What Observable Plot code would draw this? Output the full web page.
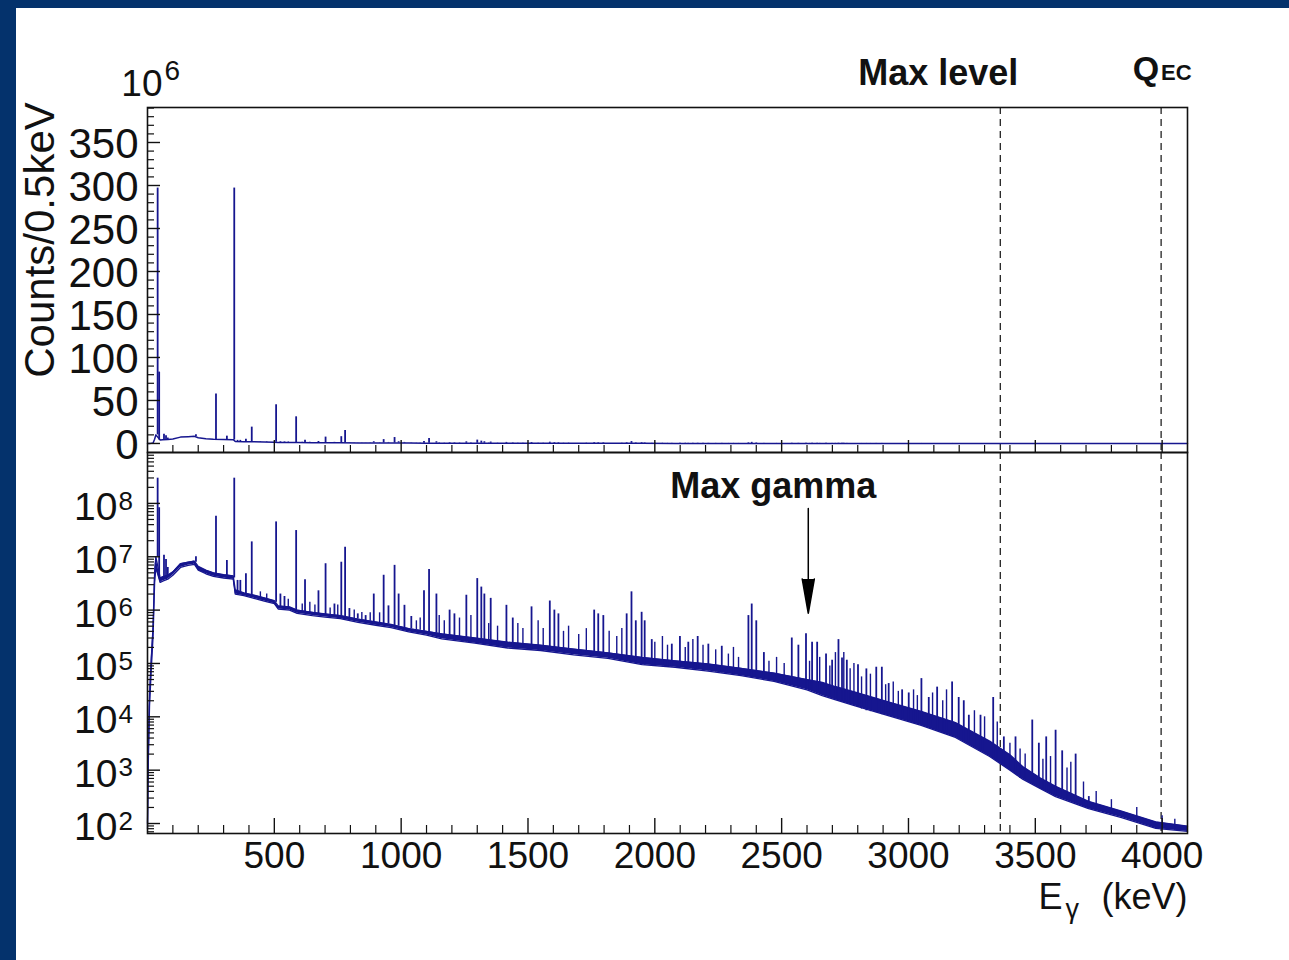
<!DOCTYPE html>
<html><head><meta charset="utf-8">
<script src="https://cdn.jsdelivr.net/npm/d3@7"></script>
<script src="https://cdn.jsdelivr.net/npm/@observablehq/plot@0.6"></script>
<style>
html,body{margin:0;padding:0;background:#fff;}
#wrap{position:relative;width:1289px;height:960px;overflow:hidden;background:#fff;}
#wrap svg{position:absolute;left:0;}
.navL{position:absolute;left:0;top:0;width:16px;height:960px;background:#04326c;}
.navT{position:absolute;left:0;top:0;width:1289px;height:8px;background:#04326c;}
</style></head>
<body><div id="wrap"><div id="top"></div><div id="bot"></div><div class="navL"></div><div class="navT"></div></div>
<script>
// ---- Continuum (energy keV, lower / upper edge of the noisy spectrum line, counts per 0.5 keV)
const contE  = [0,3,8,15,22,28,33,50,60,80,100,130,160,185,200,230,260,300,338,346,380,420,460,500,515,560,590,650,700,760,830,900,960,1030,1100,1160,1290,1420,1550,1680,1815,1950,2080,2210,2340,2470,2600,2660,2710,2790,2920,3050,3185,3320,3400,3450,3520,3580,3710,3840,3975,4100];
const contLo = [79,1.26e3,1.6e4,7.9e4,3.2e5,3.2e6,6.3e6,3.3e6,3.5e6,3.8e6,4.5e6,6.3e6,6.9e6,7.2e6,5.6e6,4.8e6,4.3e6,4.0e6,3.8e6,2.0e6,1.86e6,1.66e6,1.48e6,1.32e6,1.05e6,1.0e6,8.7e5,7.9e5,7.4e5,6.9e5,5.9e5,5.2e5,4.7e5,3.9e5,3.4e5,2.9e5,2.4e5,1.95e5,1.75e5,1.45e5,1.25e5,9.5e4,8.5e4,7.2e4,5.9e4,4.6e4,3.2e4,2.5e4,2.1e4,1.6e4,1.05e4,6.9e3,4.1e3,1.8e3,1.0e3,680,450,320,190,129,81,71];
const contHi = [100,2.0e3,2.5e4,1.26e5,5.0e5,5.0e6,1.0e7,4.0e6,4.2e6,4.5e6,5.2e6,7.4e6,7.9e6,8.3e6,6.6e6,5.6e6,5.0e6,4.6e6,4.4e6,2.4e6,2.1e6,1.9e6,1.7e6,1.5e6,1.2e6,1.15e6,1.0e6,9.1e5,8.5e5,7.9e5,6.8e5,6.0e5,5.4e5,4.5e5,4.0e5,3.6e5,3.0e5,2.5e5,2.2e5,1.86e5,1.58e5,1.3e5,1.12e5,9.8e4,8.1e4,6.6e4,5.0e4,4.4e4,3.7e4,2.9e4,1.9e4,1.26e4,7.8e3,3.5e3,1.95e3,1.17e3,710,500,260,170,107,89];

// ---- Strong gamma lines (energy keV, foot and top of each line, counts per 0.5 keV)
const peakE    = [40,46,65,73,80,191,270,313,342,355,366,388,411,507,524,540,586,621,674,702,737,764,779,796,829,860,892,931,950,974,990,1013,1040,1090,1110,1139,1191,1210,1257,1300,1316,1328,1353,1415,1440,1514,1586,1604,1620,1761,1777,1797,1889,1908,1925,1948,1960,1988,2067,2099,2132,2169,2211,2264,2369,2382,2400,2430,2540,2566,2596,2620,2640,2675,2699,2724,2738,2757,2801,2834,2873,2895,2922,2975,3001,3051,3080,3113,3172,3198,3218,3238,3284,3334,3376,3422,3488,3514,3543,3580,3606,3659,3711];
const peakBase = [1.0e7,4.0e6,3.8e6,4.0e6,4.2e6,7.9e6,4.5e6,4.2e6,4.0e6,2.1e6,2.1e6,2.0e6,1.86e6,1.4e6,1.17e6,1.1e6,1.0e6,9.1e5,8.5e5,8.3e5,7.9e5,7.6e5,7.4e5,7.2e5,6.8e5,6.3e5,6.0e5,5.6e5,5.5e5,5.1e5,5.0e5,4.7e5,4.5e5,4.0e5,3.8e5,3.7e5,2.8e5,2.7e5,2.5e5,2.4e5,2.35e5,2.3e5,2.2e5,2.0e5,1.95e5,1.8e5,1.7e5,1.68e5,1.6e5,1.35e5,1.33e5,1.3e5,1.1e5,1.05e5,1.02e5,9.5e4,9.3e4,9.2e4,8.6e4,8.3e4,7.9e4,7.6e4,7.2e4,6.6e4,5.7e4,5.6e4,5.4e4,5.0e4,4.0e4,3.8e4,3.3e4,3.0e4,2.8e4,2.4e4,2.2e4,2.0e4,1.9e4,1.8e4,1.5e4,1.3e4,1.2e4,1.1e4,1.05e4,9.0e3,8.0e3,6.9e3,6.3e3,5.6e3,4.3e3,3.9e3,3.5e3,3.2e3,2.3e3,1.7e3,1.2e3,850,560,470,400,320,290,240,190];
const peakTop  = [2.97e8,8.3e7,1.07e7,8.9e6,6.3e6,1.0e7,5.75e7,8.5e6,2.97e8,3.6e6,3.6e6,4.8e6,1.9e7,4.5e7,2.0e6,1.8e6,3.1e7,3.7e6,2.3e6,7.4e6,1.3e6,7.9e6,1.5e7,1.07e6,8.5e5,7.9e5,2.0e6,4.5e6,1.2e6,6.9e6,2.0e6,1.23e6,7.6e5,2.3e6,5.8e6,2.0e6,1.0e6,8.5e5,1.9e6,3.9e6,2.7e6,2.0e6,1.66e6,1.23e6,7.1e5,1.15e6,1.48e6,1.0e6,8.5e5,1.0e6,8.5e5,7.9e5,8.5e5,2.2e6,6.3e5,9.1e5,6.3e5,2.8e5,2.3e5,3.2e5,2.5e5,3.2e5,2.3e5,2.1e5,7.9e5,1.3e6,6.3e5,1.6e5,3.0e5,2.2e5,3.6e5,2.5e5,2.5e5,1.5e5,1.15e5,2.8e5,1.26e5,1.15e5,9.5e4,7.9e4,8.5e4,8.5e4,4.2e4,3.2e4,2.8e4,5.2e4,2.3e4,3.6e4,4.5e4,2.3e4,2.0e4,1.07e4,1.07e4,2.3e4,4.2e3,4.2e3,8.7e3,3.2e3,4.2e3,5.6e3,2.3e3,2.0e3,320];

// ---- Weak lines / noise spikes on the continuum (energy keV, foot, top)
const weakE    = [445,470,555,610,640,660,720,750,815,845,878,915,1060,1075,1150,1170,1230,1275,1345,1380,1460,1480,1540,1560,1640,1660,1700,1730,1820,1850,1870,2000,2030,2050,2120,2150,2190,2240,2290,2310,2330,2450,2480,2510,2610,2650,2690,2712,2745,2770,2785,2815,2850,2910,2940,2960,3020,3035,3095,3135,3150,3260,3300,3350,3400,3440,3460,3530,3560,3625,3640,3690,3740,3800,3900,4000,4050];
const weakBase = [1.55e6,1.45e6,1.0e6,9.3e5,8.9e5,8.6e5,8.0e5,7.7e5,7.0e5,6.6e5,6.2e5,5.8e5,4.3e5,4.2e5,3.5e5,3.2e5,2.7e5,2.5e5,2.3e5,2.1e5,1.9e5,1.9e5,1.75e5,1.7e5,1.6e5,1.55e5,1.45e5,1.4e5,1.25e5,1.2e5,1.15e5,9.2e4,9.0e4,8.8e4,8.0e4,7.8e4,7.4e4,6.9e4,6.4e4,6.2e4,6.0e4,4.8e4,4.5e4,4.2e4,3.1e4,2.6e4,2.3e4,2.1e4,1.85e4,1.7e4,1.6e4,1.4e4,1.25e4,1.1e4,1.0e4,9.5e3,7.5e3,7.2e3,6.0e3,5.0e3,4.7e3,2.8e3,2.1e3,1.5e3,1.0e3,700,650,430,370,280,270,210,175,150,110,78,74];
const weakTop  = [2.2e6,2.0e6,1.6e6,1.3e6,1.4e6,1.25e6,1.1e6,1.25e6,1.0e6,9.0e5,8.9e5,8.9e5,6.3e5,7.1e5,7.9e5,6.3e5,7.1e5,7.9e5,5.6e5,5.0e5,5.6e5,4.5e5,6.3e5,4.5e5,4.0e5,5.0e5,3.5e5,4.5e5,4.0e5,3.2e5,4.5e5,2.5e5,3.2e5,2.2e5,2.0e5,2.8e5,2.2e5,1.8e5,1.5e5,2.0e5,1.3e5,1.1e5,1.3e5,1.0e5,1.1e5,1.3e5,9.0e4,1.6e5,1.6e5,8.0e4,1.0e5,5.6e4,6.3e4,4.0e4,4.5e4,3.0e4,3.2e4,2.5e4,2.8e4,2.0e4,3.2e4,1.3e4,1.0e4,8.0e3,3.2e3,2.5e3,2.0e3,1.6e3,1.8e3,1.1e3,1.4e3,600,400,280,200,140,120];

// ---- Reference lines and annotations (keV)
const markerNames = ["Max level", "QEC"];
const markerE = [3362, 3996];
const maxGammaE = 2605;

// ---- Axis tick values / labels
const xMajor = [500,1000,1500,2000,2500,3000,3500,4000];
const yTopMajor = [0,50,100,150,200,250,300,350];
const logMajor = [1e2,1e3,1e4,1e5,1e6,1e7,1e8];

// tables built from the arrays above
const cont = contE.map((E, i) => ({E, lo: contLo[i], hi: contHi[i]}));
const peaks = peakE.map((E, i) => ({E, base: peakBase[i], top: peakTop[i]}));
const weak = weakE.map((E, i) => ({E, base: weakBase[i], top: weakTop[i]}));
const markers = markerE.map((E, i) => ({E, name: markerNames[i]}));
const xMinor = d3.range(100, 4100, 100).filter(v => v % 500 !== 0);
const yTopMinor = d3.range(10, 391, 10).filter(v => v % 50 !== 0);
const logMinor = [];
for (let d = 1; d <= 8; d++) for (let k = 2; k <= 9; k++) { const v = k * 10 ** d; if (v > 65 && v < 9e8) logMinor.push(v); }

const blue = "#16168f";
const ink = "#111";
const font = "'Liberation Sans', Arial, Helvetica, sans-serif";
const W = 1289, ML = 147, MR = 102;
const xDomain = [0, 4100];

const topPlot = Plot.plot({
  width: W, height: 452, marginLeft: ML, marginRight: MR, marginTop: 107, marginBottom: 0,
  x: {domain: xDomain, axis: null},
  y: {domain: [-10.5, 390.7], axis: null},
  style: {fontFamily: font, background: "transparent", overflow: "visible", color: ink},
  marks: [
    Plot.ruleX(markers, {x: "E", stroke: "#222", strokeWidth: 1.3, strokeDasharray: "7,5"}),
    Plot.line(cont, {x: "E", y: d => d.hi / 1e6, stroke: blue, strokeWidth: 1.5}),
    Plot.ruleX(weak, {x: "E", y1: d => d.base / 1e6, y2: d => d.top / 1e6, stroke: blue, strokeWidth: 1.4}),
    Plot.ruleX(peaks, {x: "E", y1: d => d.base / 1e6, y2: d => d.top / 1e6, stroke: blue, strokeWidth: 1.8}),
    Plot.frame({stroke: ink, strokeWidth: 1.6}),
    Plot.axisY(yTopMajor, {anchor: "left", tickSize: 13, dx: 13, tickFormat: () => "", label: null, strokeWidth: 1.4}),
    Plot.axisY(yTopMinor, {anchor: "left", tickSize: 7, dx: 7, tickFormat: () => "", label: null, strokeWidth: 1.2}),
    Plot.axisX(xMajor, {anchor: "bottom", tickSize: 12, dy: -12, tickFormat: () => "", label: null, strokeWidth: 1.4}),
    Plot.axisX(xMinor, {anchor: "bottom", tickSize: 7, dy: -7, tickFormat: () => "", label: null, strokeWidth: 1.2}),
    Plot.text(yTopMajor, {y: d => d, text: d => String(d), frameAnchor: "left", textAnchor: "end", lineAnchor: "middle", dx: -9, dy: 2, fontSize: 42}),
    Plot.text(["10"], {frameAnchor: "top-left", textAnchor: "end", lineAnchor: "bottom", dx: 15, dy: -12, fontSize: 37}),
    Plot.text(["6"], {frameAnchor: "top-left", textAnchor: "start", lineAnchor: "bottom", dx: 17, dy: -28, fontSize: 28}),
    Plot.text(["Counts/0.5keV"], {frameAnchor: "left", rotate: -90, textAnchor: "middle", lineAnchor: "middle", dx: -107, dy: -40, fontSize: 42}),
    Plot.text(markers.slice(0, 1), {x: "E", text: "name", frameAnchor: "top", textAnchor: "end", lineAnchor: "bottom", dx: 18, dy: -23, fontSize: 36, fontWeight: "bold"}),
    Plot.text(markers.slice(1), {x: "E", text: () => "Q", frameAnchor: "top", textAnchor: "end", lineAnchor: "bottom", dx: -2, dy: -28, fontSize: 34, fontWeight: "bold"}),
    Plot.text(markers.slice(1), {x: "E", text: () => "EC", frameAnchor: "top", textAnchor: "start", lineAnchor: "bottom", dx: 0, dy: -28, fontSize: 22, fontWeight: "bold"})
  ]
});

const botPlot = Plot.plot({
  width: W, height: 508, marginLeft: ML, marginRight: MR, marginTop: 0, marginBottom: 127,
  x: {domain: xDomain, axis: null},
  y: {type: "log", domain: [65, 9.0e8], axis: null},
  style: {fontFamily: font, background: "transparent", overflow: "visible", color: ink},
  marks: [
    Plot.ruleX(markers, {x: "E", stroke: "#222", strokeWidth: 1.3, strokeDasharray: "7,5"}),
    Plot.areaY(cont, {x: "E", y1: "lo", y2: "hi", fill: blue}),
    Plot.line(cont, {x: "E", y: "lo", stroke: blue, strokeWidth: 1.3}),
    Plot.line(cont, {x: "E", y: "hi", stroke: blue, strokeWidth: 1.3}),
    Plot.ruleX(weak, {x: "E", y1: "base", y2: "top", stroke: blue, strokeWidth: 1.4}),
    Plot.ruleX(peaks, {x: "E", y1: "base", y2: "top", stroke: blue, strokeWidth: 1.8}),
    Plot.frame({stroke: ink, strokeWidth: 1.6}),
    Plot.axisY(logMajor, {anchor: "left", tickSize: 13, dx: 13, tickFormat: () => "", label: null, strokeWidth: 1.4}),
    Plot.axisY(logMinor, {anchor: "left", tickSize: 7, dx: 7, tickFormat: () => "", label: null, strokeWidth: 1.2}),
    Plot.axisX(xMajor, {anchor: "bottom", tickSize: 15, dy: -15, tickFormat: () => "", label: null, strokeWidth: 1.4}),
    Plot.axisX(xMinor, {anchor: "bottom", tickSize: 8, dy: -8, tickFormat: () => "", label: null, strokeWidth: 1.2}),
    Plot.text(logMajor, {y: d => d, text: () => "10", frameAnchor: "left", textAnchor: "end", lineAnchor: "middle", dx: -30, dy: 4, fontSize: 39}),
    Plot.text(logMajor, {y: d => d, text: d => String(Math.round(Math.log10(d))), frameAnchor: "left", textAnchor: "start", lineAnchor: "middle", dx: -29, dy: -2, fontSize: 26}),
    Plot.text(xMajor, {x: d => d, text: d => String(d), frameAnchor: "bottom", lineAnchor: "top", dy: 8, fontSize: 37}),
    Plot.text(["E"], {frameAnchor: "bottom-right", textAnchor: "start", lineAnchor: "bottom", dx: -149, dy: 75, fontSize: 36}),
    Plot.text(["γ"], {frameAnchor: "bottom-right", textAnchor: "start", lineAnchor: "bottom", dx: -122, dy: 84, fontSize: 27}),
    Plot.text(["(keV)"], {frameAnchor: "bottom-right", textAnchor: "end", lineAnchor: "bottom", dx: 0, dy: 75, fontSize: 36}),
    Plot.text([{E: maxGammaE}], {x: "E", text: () => "Max gamma", frameAnchor: "top", textAnchor: "middle", lineAnchor: "bottom", dx: -35, dy: 45, fontSize: 36, fontWeight: "bold"}),
    Plot.arrow([{E: maxGammaE, from: 8.05e7, to: 8.7e5}], {x: "E", y1: "from", y2: "to", stroke: "#000", fill: "#000", strokeWidth: 1.5, headLength: 36, headAngle: 20})
  ]
});

topPlot.style.top = "0px";
botPlot.style.top = "452px";
document.getElementById("top").appendChild(topPlot);
document.getElementById("bot").appendChild(botPlot);
</script></body></html>
